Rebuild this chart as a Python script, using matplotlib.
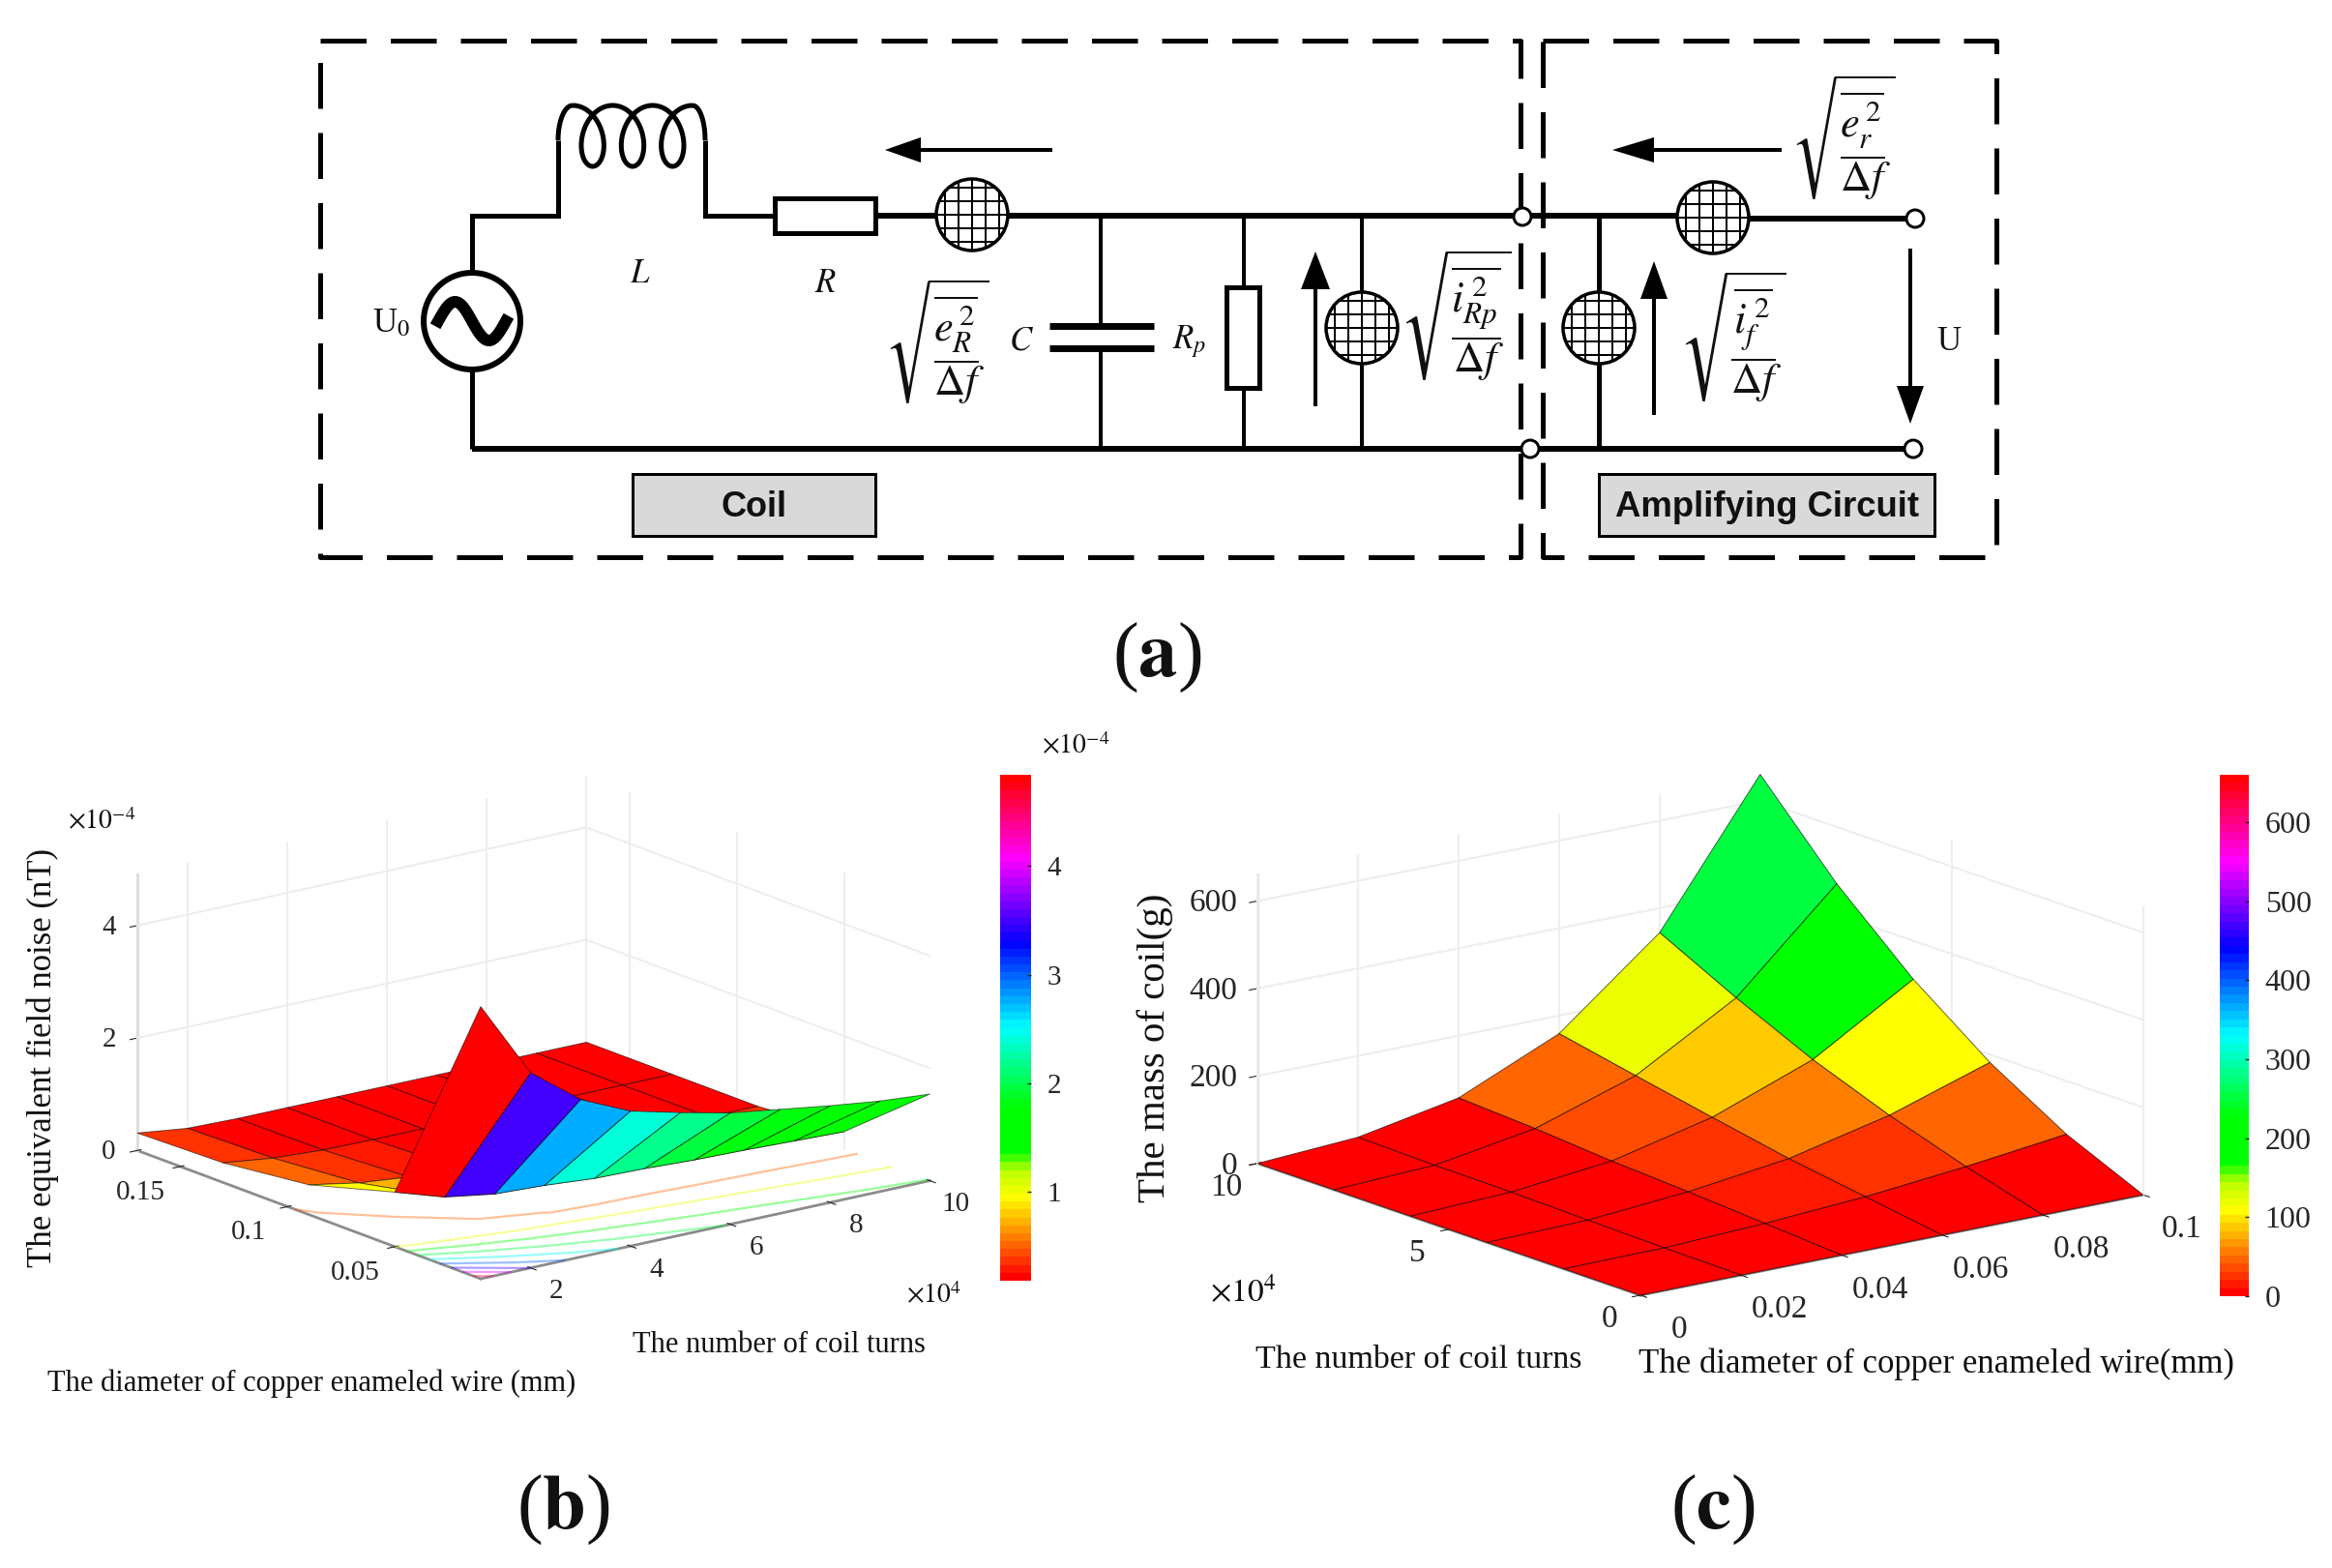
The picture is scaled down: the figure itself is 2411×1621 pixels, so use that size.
import numpy as np
import matplotlib
matplotlib.use('Agg')
import matplotlib.pyplot as plt
from matplotlib.colors import LinearSegmentedColormap, Normalize
from matplotlib.cm import ScalarMappable
from matplotlib.patches import Rectangle, Circle, Polygon
from mpl_toolkits.mplot3d import proj3d

plt.rcParams['font.family'] = ['Liberation Serif', 'DejaVu Serif']
plt.rcParams['mathtext.fontset'] = 'stix'

W, H = 2411, 1621

# ---- panel (b) data (noise in units of 1e-4 nT, turns in units of 1e4)
b_diameter = [0.01, 0.05, 0.09, 0.13, 0.17]
b_turns = [1, 2, 3, 4, 5, 6, 7, 8, 9, 10]
b_noise_d001 = [4.84, 3.47, 2.80, 2.40, 2.18, 1.98, 1.85, 1.72, 1.61, 1.54]
b_noise_d005 = [0.97, 0.69, 0.55, 0.51, 0.44, 0.42, 0.38, 0.36, 0.33, 0.30]
b_noise_d009 = [0.53, 0.37, 0.28, 0.24, 0.21, 0.20, 0.19, 0.19, 0.19, 0.18]
b_noise_d013 = [0.35, 0.24, 0.19, 0.18, 0.18, 0.18, 0.18, 0.18, 0.18, 0.18]
b_noise_d017 = [0.31, 0.20, 0.18, 0.18, 0.18, 0.18, 0.18, 0.18, 0.18, 0.18]
b_contour_levels = [0.5, 1, 1.5, 2, 2.5, 3, 3.5, 4, 4.5]
b_d_ticks = [0.05, 0.1, 0.15]
b_n_ticks = [2, 4, 6, 8, 10]
b_z_ticks = [0, 2, 4]
b_cbar_ticks = [1, 2, 3, 4]

# ---- panel (c) data (mass in g, turns in units of 1e4)
c_diameter = [0, 0.02, 0.04, 0.06, 0.08, 0.1]
c_turns = [0, 2, 4, 6, 8, 10]
c_mass_n0 = [0, 0, 0, 0, 0, 0]
c_mass_n2 = [0, 2, 12, 27, 50, 78]
c_mass_n4 = [0, 5, 24, 54, 107, 182]
c_mass_n6 = [0, 9, 34, 88, 174, 312]
c_mass_n8 = [0, 10, 48, 123, 255, 470]
c_mass_n10 = [0, 14, 58, 159, 344, 660]
c_d_ticks = [0, 0.02, 0.04, 0.06, 0.08, 0.1]
c_d_labels = ['0', '0.02', '0.04', '0.06', '0.08', '0.1']
c_n_ticks = [0, 5, 10]
c_z_ticks = [0, 200, 400, 600]
c_cbar_ticks = [0, 100, 200, 300, 400, 500, 600]

cmap = LinearSegmentedColormap.from_list('jet_hsv', [
    (0.00, '#ff0000'), (0.16, '#ffff00'), (0.215, '#b8ff00'), (0.25, '#00ff00'),
    (0.34, '#00ff00'), (0.50, '#00ffff'), (0.67, '#0000ff'), (0.84, '#ff00ff'),
    (1.00, '#ff0000')], N=64)

fig = plt.figure(figsize=(W / 100, H / 100), dpi=100, facecolor='white')


def style_3d(ax, tick_size):
    ax.patch.set_visible(False)
    ax.grid(False)
    ax.computed_zorder = False
    for axis, col in ((ax.xaxis, '#8c8c8c'), (ax.yaxis, '#8c8c8c'), (ax.zaxis, '#dcdcdc')):
        axis.set_pane_color((1, 1, 1, 0))
        axis.pane.set_edgecolor((1, 1, 1, 0))
        axis.line.set_color(col)
        axis.line.set_linewidth(2)
    ax.tick_params(axis='both', labelsize=tick_size, colors='#262626', width=1.2)


def align_ticks(axis, va='baseline', ha=None):
    for tick in axis.get_major_ticks():
        tick.label1.set_va(va)
        if ha:
            tick.label1.set_ha(ha)


def wall_grid(ax, xticks, yticks, zticks, xwall, ywall):
    xl, yl, zl = ax.get_xlim(), ax.get_ylim(), ax.get_zlim()
    kw = dict(color='#eeeeee', lw=1.5, zorder=1)
    for x in xticks:
        ax.plot([x, x], [ywall, ywall], zl, **kw)
    for y in yticks:
        ax.plot([xwall, xwall], [y, y], zl, **kw)
    for z in zticks:
        ax.plot(xl, [ywall, ywall], [z, z], **kw)
        ax.plot([xwall, xwall], yl, [z, z], **kw)


def fit_axes(ax, p0, p1, target0, length):
    """Size and move a 3-D axes so that world point p0 lands on pixel target0
    and the floor edge p0-p1 has the given on-screen scale."""
    def screen(p):
        x, y, _ = proj3d.proj_transform(*p, ax.get_proj())
        return ax.transData.transform((x, y))
    s = 800.0
    ax.set_position([0.1, 0.1, s / W, s / H])
    ax.apply_aspect()
    a, b = screen(p0), screen(p1)
    s *= length / np.hypot(*(a - b))
    ax.set_position([0.1, 0.1, s / W, s / H])
    ax.apply_aspect()
    a = screen(p0)
    dx = target0[0] - a[0]
    dy = (H - target0[1]) - a[1]
    ax.set_position([0.1 + dx / W, 0.1 + dy / H, s / W, s / H])
    ax.apply_aspect()


# ---- panel (b)
axb = fig.add_axes([0.1, 0.1, 0.3, 0.3], projection='3d', proj_type='ortho')
axb.set_xlim(0.17, 0.01)
axb.set_ylim(1, 10)
axb.set_zlim(0, 4.9)
axb.set_box_aspect((586, 586, 298))
axb.view_init(elev=16.6, azim=-37.4)
style_3d(axb, 21)
Zb = np.array([b_noise_d001, b_noise_d005, b_noise_d009, b_noise_d013, b_noise_d017])
Db, Nb = np.meshgrid(b_diameter, b_turns, indexing='ij')
normb = Normalize(Zb.min(), Zb.max())
axb.plot_surface(Db, Nb, Zb, rstride=1, cstride=1, facecolors=cmap(normb(Zb)),
                 edgecolor=(0, 0, 0, 0.55), linewidth=0.7, shade=False, zorder=3)
axb.contour(Db, Nb, Zb, levels=b_contour_levels, zdir='z', offset=0, cmap=cmap, norm=normb,
            alpha=0.4, linewidths=1.6, zorder=2)
axb.set_xticks(b_d_ticks)
axb.set_xticklabels(['0.05', '0.1', '0.15'])
axb.set_yticks(b_n_ticks)
axb.set_zticks(b_z_ticks)
axb.tick_params(axis='x', pad=20)
axb.tick_params(axis='y', pad=16)
align_ticks(axb.xaxis)
align_ticks(axb.yaxis)
align_ticks(axb.zaxis, va='center_baseline')
wall_grid(axb, [0.05, 0.1, 0.15], b_n_ticks, [2, 4], 0.17, 10)
fit_axes(axb, (0.01, 1, 0), (0.17, 1, 0), (497, 1322), 379)
axb.zaxis.set_ticks_position('lower')

# ---- panel (c)
axc = fig.add_axes([0.5, 0.1, 0.3, 0.3], projection='3d', proj_type='ortho')
axc.set_xlim(0, 0.1)
axc.set_ylim(0, 10)
axc.set_zlim(0, 660)
axc.set_box_aspect((655, 655, 310))
axc.view_init(elev=15.2, azim=-127.3)
style_3d(axc, 24)
Zc = np.array([c_mass_n0, c_mass_n2, c_mass_n4, c_mass_n6, c_mass_n8, c_mass_n10], float).T
Dc, Nc = np.meshgrid(c_diameter, c_turns, indexing='ij')
normc = Normalize(0, 660)
axc.plot_surface(Dc, Nc, Zc, rstride=1, cstride=1, facecolors=cmap(normc(Zc)),
                 edgecolor=(0, 0, 0, 0.6), linewidth=0.7, shade=False, zorder=3)
axc.set_xticks(c_d_ticks)
axc.set_xticklabels(c_d_labels)
axc.set_yticks(c_n_ticks)
axc.set_zticks(c_z_ticks)
axc.tick_params(axis='x', pad=28)
axc.tick_params(axis='y', pad=14)
axc.tick_params(axis='z', pad=0)
align_ticks(axc.xaxis)
align_ticks(axc.yaxis, va='center')
align_ticks(axc.zaxis, va='center_baseline', ha='right')
wall_grid(axc, c_d_ticks, c_n_ticks, [200, 400, 600], 0.1, 10)
fit_axes(axc, (0, 0, 0), (0.1, 0, 0), (1696, 1339), 530)
axc.zaxis.set_ticks_position('upper')


# ---- colour bars
def cbar(x0, x1, y0, y1, norm, ticks, size):
    cax = fig.add_axes([x0 / W, 1 - y1 / H, (x1 - x0) / W, (y1 - y0) / H])
    cb = fig.colorbar(ScalarMappable(norm=norm, cmap=cmap), cax=cax, ticks=ticks)
    cb.outline.set_visible(False)
    cax.tick_params(length=3, width=1, direction='in', labelsize=size, colors='#262626', pad=12)
    return cb


cbar(1034, 1066, 801, 1324, normb, b_cbar_ticks, 21)
cbar(2295, 2325, 801, 1340, normc, c_cbar_ticks, 23)

# ---- overlay for diagram and free labels
ov = fig.add_axes([0, 0, 1, 1], zorder=10)
ov.set_xlim(0, W)
ov.set_ylim(H, 0)
ov.axis('off')
ov.patch.set_visible(False)
PX = 72 / 100


def line(xs, ys, lw=5, **k):
    k.setdefault('color', 'black')
    k.setdefault('solid_capstyle', 'butt')
    return ov.plot(xs, ys, lw=lw * PX, **k)


def text(x, y, s, size, **k):
    k.setdefault('ha', 'center')
    k.setdefault('va', 'center')
    k.setdefault('color', '#111111')
    return ov.text(x, y, s, fontsize=size, **k)


def arrow(x0, y0, bx, by, tx, ty, hw):
    line([x0, bx], [y0, by], lw=4)
    nx, ny = (ty - by), -(tx - bx)
    n = np.hypot(nx, ny)
    nx, ny = nx / n * hw, ny / n * hw
    ov.add_patch(Polygon([(tx, ty), (bx + nx, by + ny), (bx - nx, by - ny)], color='black', lw=0))


def mesh(cx, cy, r=37):
    c = Circle((cx, cy), r, fc='white', ec='black', lw=3.5 * PX, zorder=4)
    ov.add_patch(c)
    for o in np.arange(-28, 29, 14):
        for l in (ov.plot([cx + o, cx + o], [cy - r, cy + r], color='black', lw=2 * PX, zorder=4)[0],
                  ov.plot([cx - r, cx + r], [cy + o, cy + o], color='black', lw=2 * PX, zorder=4)[0]):
            l.set_clip_path(c)


def terminal(x, y):
    ov.add_patch(Circle((x, y), 9, fc='white', ec='black', lw=3 * PX, zorder=5))


dash = dict(dashes=(9.5, 5), dash_capstyle='butt')
for xa, xb in ((331, 1572), (1595, 2064)):
    line([xa, xb, xb, xa, xa], [42, 42, 576, 576, 42], **dash)

# wires
line([488, 488, 577, 577], [282, 223, 223, 145], lw=5, solid_joinstyle='miter')
th = np.linspace(np.pi, np.pi / 2, 20)
line(592 + 15 * np.cos(th), 145 + 36 * (-np.sin(th)), lw=5)
t = np.linspace(0, 6 * np.pi, 300)
line(592 + 124 / (6 * np.pi) * t + 21 * np.sin(t), 109 + 31.5 * (1 - np.cos(t)), lw=5)
th = np.linspace(np.pi / 2, 0, 20)
line(716 + 13 * np.cos(th), 145 - 36 * np.sin(th), lw=5)
line([729, 729, 801], [145, 223, 223], lw=5, solid_joinstyle='miter')
line([905, 1572], [223, 223], lw=6)
line([488, 488], [382, 464], lw=5)
line([488, 1578], [464, 464], lw=6)
line([1138, 1138], [223, 337], lw=4)
line([1138, 1138], [360, 464], lw=4)
line([1286, 1286], [223, 297], lw=4)
line([1286, 1286], [401, 464], lw=4)
line([1408, 1408], [223, 464], lw=4)
line([1580, 1771], [223, 223], lw=6)
line([1771, 1975], [226, 226], lw=6)
line([1590, 1972], [464, 464], lw=6)
line([1653, 1653], [223, 464], lw=5)
line([1085, 1193], [337, 337], lw=7)
line([1085, 1193], [360, 360], lw=7)

ov.add_patch(Rectangle((801, 205), 104, 36, fc='white', ec='black', lw=5 * PX, zorder=3))
ov.add_patch(Rectangle((1268, 297), 34, 104, fc='white', ec='black', lw=5 * PX, zorder=3))

ov.add_patch(Circle((488, 332), 50, fc='white', ec='black', lw=6 * PX, zorder=3))
xs = np.linspace(453, 523, 60)
ov.plot(xs, 332 - 20 * np.sin((xs - 453) / 70 * 2 * np.pi), color='black', lw=12 * PX, zorder=4)

for cx, cy in ((1005, 222), (1408, 339), (1653, 339), (1771, 225)):
    mesh(cx, cy)
for tx, ty in ((1574, 224), (1582, 464), (1980, 226), (1978, 464)):
    terminal(tx, ty)

arrow(1088, 155, 952, 155, 915, 155, 13)
arrow(1842, 155, 1710, 155, 1667, 155, 13)
arrow(1360, 420, 1360, 299, 1360, 260, 15)
arrow(1710, 429, 1710, 309, 1710, 270, 14)
arrow(1975, 257, 1975, 399, 1975, 438, 14)

text(662, 283, r'$\mathit{L}$', 25)
text(853, 294, r'$\mathit{R}$', 25)
text(405, 335, r'U$_{\mathrm{0}}$', 25)
text(1056, 353, r'$\mathit{C}$', 25)
text(1230, 353, r'$\mathit{R_{p}}$', 25)
text(2015, 353, 'U', 25)
text(969, 353, r'$\sqrt{\dfrac{\overline{e_{R}^{\,2}}}{\Delta f}}$', 32)
text(1505, 327, r'$\sqrt{\dfrac{\overline{i_{Rp}^{\,2}}}{\Delta f}}$', 32)
text(1906, 142, r'$\sqrt{\dfrac{\overline{e_{r}^{\,2}}}{\Delta f}}$', 32)
text(1792, 349, r'$\sqrt{\dfrac{\overline{i_{f}^{\,2}}}{\Delta f}}$', 32)

ov.add_patch(Rectangle((654, 490), 251, 64, fc='#d9d9d9', ec='black', lw=3 * PX))
ov.add_patch(Rectangle((1653, 490), 347, 64, fc='#d9d9d9', ec='black', lw=3 * PX))
text(780, 524, 'Coil', 26, family=['Liberation Sans'], fontweight='bold')
text(1827, 524, 'Amplifying Circuit', 26.3, family=['Liberation Sans'], fontweight='bold')

text(1196, 680, r'($\mathbf{a}$)', 58)
text(582, 1561, r'($\mathbf{b}$)', 58)
text(1771, 1561, r'($\mathbf{c}$)', 58)

# free axis captions
text(44, 1094, 'The equivalent field noise (nT)', 25, rotation=90)
text(322, 1430, 'The diameter of copper enameled wire (mm)', 22)
text(805, 1391, 'The number of coil turns', 22)
text(105, 850, r'$\times10^{-4}$', 20)
text(1112, 772, r'$\times10^{-4}$', 20)
text(966, 1340, r'$\times10^{4}$', 20)
text(1194, 1083, 'The mass of coil(g)', 29.5, rotation=90)
text(1467, 1406, 'The number of coil turns', 24.5)
text(2002, 1410, 'The diameter of copper enameled wire(mm)', 25)
text(1285, 1336, r'$\times10^{4}$', 24)

fig.savefig('out.png', dpi=100)
